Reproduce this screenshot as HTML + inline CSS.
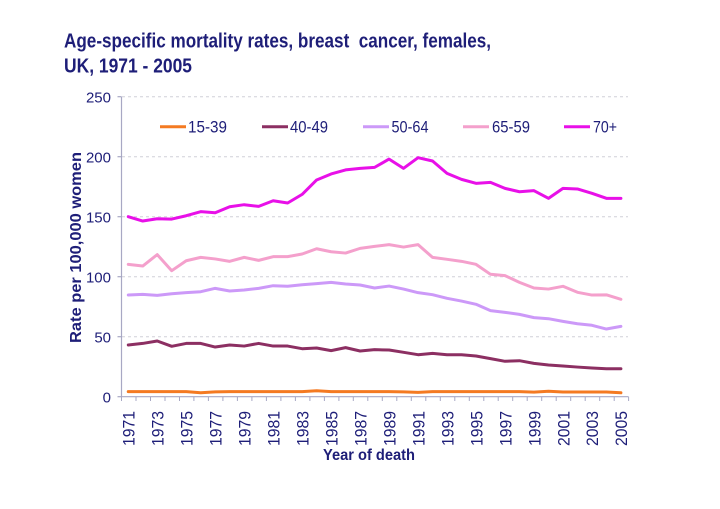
<!DOCTYPE html>
<html><head><meta charset="utf-8"><style>
html,body{margin:0;padding:0;background:#fff;}
svg{display:block;}
text{font-family:"Liberation Sans",Arial,sans-serif;fill:#1e1e78;}
</style></head><body>
<svg width="720" height="509" viewBox="0 0 720 509" xmlns="http://www.w3.org/2000/svg">
<rect width="720" height="509" fill="#fff"/>
<!-- title -->
<text x="64" y="47.5" font-size="20" font-weight="bold" textLength="427" lengthAdjust="spacingAndGlyphs" fill="#1a1a78">Age-specific mortality rates, breast &#160;cancer, females,</text>
<text x="64" y="72.3" font-size="20" font-weight="bold" textLength="128" lengthAdjust="spacingAndGlyphs" fill="#1a1a78">UK, 1971 - 2005</text>

<!-- gridlines -->
<g stroke="#d0d0d8" stroke-width="1" stroke-dasharray="3,3">
<line x1="122" y1="96.7" x2="628" y2="96.7"/>
<line x1="122" y1="156.7" x2="628" y2="156.7"/>
<line x1="122" y1="216.7" x2="628" y2="216.7"/>
<line x1="122" y1="276.7" x2="628" y2="276.7"/>
<line x1="122" y1="336.7" x2="628" y2="336.7"/>
</g>
<!-- axes -->
<g stroke="#a8a8c4" stroke-width="1.2">
<line x1="121.5" y1="96.7" x2="121.5" y2="397"/>
<line x1="121" y1="396.7" x2="628.5" y2="396.7"/>
<line x1="117.5" y1="96.7" x2="121.5" y2="96.7"/>
<line x1="117.5" y1="156.7" x2="121.5" y2="156.7"/>
<line x1="117.5" y1="216.7" x2="121.5" y2="216.7"/>
<line x1="117.5" y1="276.7" x2="121.5" y2="276.7"/>
<line x1="117.5" y1="336.7" x2="121.5" y2="336.7"/>
<line x1="117.5" y1="396.7" x2="121.5" y2="396.7"/>
</g>
<g stroke="#a8a8c4" stroke-width="1">
<line x1="121.5" y1="396.7" x2="121.5" y2="401"/>
<line x1="136" y1="396.7" x2="136" y2="401"/>
<line x1="150.5" y1="396.7" x2="150.5" y2="401"/>
<line x1="165" y1="396.7" x2="165" y2="401"/>
<line x1="179.5" y1="396.7" x2="179.5" y2="401"/>
<line x1="193.9" y1="396.7" x2="193.9" y2="401"/>
<line x1="208.4" y1="396.7" x2="208.4" y2="401"/>
<line x1="222.9" y1="396.7" x2="222.9" y2="401"/>
<line x1="237.4" y1="396.7" x2="237.4" y2="401"/>
<line x1="251.9" y1="396.7" x2="251.9" y2="401"/>
<line x1="266.4" y1="396.7" x2="266.4" y2="401"/>
<line x1="280.9" y1="396.7" x2="280.9" y2="401"/>
<line x1="295.4" y1="396.7" x2="295.4" y2="401"/>
<line x1="309.9" y1="396.7" x2="309.9" y2="401"/>
<line x1="324.4" y1="396.7" x2="324.4" y2="401"/>
<line x1="338.9" y1="396.7" x2="338.9" y2="401"/>
<line x1="353.3" y1="396.7" x2="353.3" y2="401"/>
<line x1="367.8" y1="396.7" x2="367.8" y2="401"/>
<line x1="382.3" y1="396.7" x2="382.3" y2="401"/>
<line x1="396.8" y1="396.7" x2="396.8" y2="401"/>
<line x1="411.3" y1="396.7" x2="411.3" y2="401"/>
<line x1="425.8" y1="396.7" x2="425.8" y2="401"/>
<line x1="440.3" y1="396.7" x2="440.3" y2="401"/>
<line x1="454.8" y1="396.7" x2="454.8" y2="401"/>
<line x1="469.3" y1="396.7" x2="469.3" y2="401"/>
<line x1="483.8" y1="396.7" x2="483.8" y2="401"/>
<line x1="498.2" y1="396.7" x2="498.2" y2="401"/>
<line x1="512.7" y1="396.7" x2="512.7" y2="401"/>
<line x1="527.2" y1="396.7" x2="527.2" y2="401"/>
<line x1="541.7" y1="396.7" x2="541.7" y2="401"/>
<line x1="556.2" y1="396.7" x2="556.2" y2="401"/>
<line x1="570.7" y1="396.7" x2="570.7" y2="401"/>
<line x1="585.2" y1="396.7" x2="585.2" y2="401"/>
<line x1="599.7" y1="396.7" x2="599.7" y2="401"/>
<line x1="614.2" y1="396.7" x2="614.2" y2="401"/>
<line x1="628.6" y1="396.7" x2="628.6" y2="401"/>
</g>

<!-- y tick labels -->
<g font-size="15" text-anchor="end">
<text x="111" y="102.3">250</text>
<text x="111" y="162.3">200</text>
<text x="111" y="222.3">150</text>
<text x="111" y="282.3">100</text>
<text x="111" y="342.3">50</text>
<text x="111" y="402.3">0</text>
</g>

<!-- y axis title -->
<text transform="translate(81,343) rotate(-90)" font-size="16" font-weight="bold" textLength="191" lengthAdjust="spacingAndGlyphs" fill="#1a1a78">Rate per 100,000 women</text>

<!-- x tick labels -->
<g font-size="17" text-anchor="end">
<text transform="translate(134.6,411) rotate(-90)" textLength="35" lengthAdjust="spacingAndGlyphs">1971</text>
<text transform="translate(163.6,411) rotate(-90)" textLength="35" lengthAdjust="spacingAndGlyphs">1973</text>
<text transform="translate(192.5,411) rotate(-90)" textLength="35" lengthAdjust="spacingAndGlyphs">1975</text>
<text transform="translate(221.5,411) rotate(-90)" textLength="35" lengthAdjust="spacingAndGlyphs">1977</text>
<text transform="translate(250.5,411) rotate(-90)" textLength="35" lengthAdjust="spacingAndGlyphs">1979</text>
<text transform="translate(279.5,411) rotate(-90)" textLength="35" lengthAdjust="spacingAndGlyphs">1981</text>
<text transform="translate(308.4,411) rotate(-90)" textLength="35" lengthAdjust="spacingAndGlyphs">1983</text>
<text transform="translate(337.4,411) rotate(-90)" textLength="35" lengthAdjust="spacingAndGlyphs">1985</text>
<text transform="translate(366.4,411) rotate(-90)" textLength="35" lengthAdjust="spacingAndGlyphs">1987</text>
<text transform="translate(395.4,411) rotate(-90)" textLength="35" lengthAdjust="spacingAndGlyphs">1989</text>
<text transform="translate(424.4,411) rotate(-90)" textLength="35" lengthAdjust="spacingAndGlyphs">1991</text>
<text transform="translate(453.3,411) rotate(-90)" textLength="35" lengthAdjust="spacingAndGlyphs">1993</text>
<text transform="translate(482.3,411) rotate(-90)" textLength="35" lengthAdjust="spacingAndGlyphs">1995</text>
<text transform="translate(511.3,411) rotate(-90)" textLength="35" lengthAdjust="spacingAndGlyphs">1997</text>
<text transform="translate(540.3,411) rotate(-90)" textLength="35" lengthAdjust="spacingAndGlyphs">1999</text>
<text transform="translate(569.3,411) rotate(-90)" textLength="35" lengthAdjust="spacingAndGlyphs">2001</text>
<text transform="translate(598.2,411) rotate(-90)" textLength="35" lengthAdjust="spacingAndGlyphs">2003</text>
<text transform="translate(627.2,411) rotate(-90)" textLength="35" lengthAdjust="spacingAndGlyphs">2005</text>
</g>

<!-- x axis title -->
<text x="323" y="460" font-size="15.5" font-weight="bold" textLength="92" lengthAdjust="spacingAndGlyphs" fill="#1a1a78">Year of death</text>

<!-- series -->
<g transform="translate(128.25,396.7) scale(14.49,-1.2)" fill="none" stroke-width="3" stroke-linejoin="round" stroke-linecap="round">
<polyline vector-effect="non-scaling-stroke" stroke="#f47a22" points="0,4.2 1,4.2 2,4.2 3,4.2 4,4.2 5,3.3 6,4.0 7,4.2 8,4.2 9,4.2 10,4.2 11,4.2 12,4.2 13,5.0 14,4.2 15,4.2 16,4.2 17,4.2 18,4.2 19,4.0 20,3.6 21,4.2 22,4.2 23,4.2 24,4.2 25,4.2 26,4.2 27,4.2 28,3.8 29,4.5 30,3.9 31,3.9 32,3.9 33,3.9 34,3.3"/>
<polyline vector-effect="non-scaling-stroke" stroke="#8c2f62" points="0,43.1 1,44.4 2,46.4 3,42 4,44.4 5,44.4 6,41.4 7,43.1 8,42.2 9,44.4 10,42.2 11,42.2 12,40 13,40.6 14,38.4 15,40.9 16,38.1 17,39.2 18,38.9 19,37 20,35 21,36.1 22,35 23,35 24,33.9 25,31.7 26,29.5 27,30 28,27.8 29,26.4 30,25.6 31,24.7 32,23.9 33,23.3 34,23.3"/>
<polyline vector-effect="non-scaling-stroke" stroke="#cc99f8" points="0,84.7 1,85.3 2,84.4 3,85.8 4,86.7 5,87.5 6,90.3 7,88.1 8,88.9 9,90.3 10,92.5 11,92 12,93.3 13,94.2 14,95.3 15,93.9 16,93.1 17,90.6 18,92.2 19,89.7 20,86.7 21,85 22,82 23,79.7 24,77 25,71.7 26,70.3 27,68.6 28,65.9 29,65 30,62.8 31,60.8 32,59.5 33,56.4 34,58.6"/>
<polyline vector-effect="non-scaling-stroke" stroke="#f4a0cc" points="0,110.3 1,108.9 2,118.4 3,105 4,113.3 5,116.1 6,114.8 7,112.8 8,116.1 9,113.6 10,116.7 11,116.7 12,118.9 13,123.3 14,120.8 15,119.7 16,123.6 17,125.3 18,126.7 19,124.7 20,126.7 21,116.1 22,114.5 23,112.8 24,110.3 25,102 26,100.9 27,95.3 28,90.6 29,89.7 30,92 31,87 32,84.7 33,84.9 34,81.2"/>
<polyline vector-effect="non-scaling-stroke" stroke="#e810e8" points="0,150 1,146.4 2,148.3 3,148 4,150.8 5,154.2 6,153.3 7,158.3 8,160 9,158.6 10,163.3 11,161.4 12,168.6 13,180.6 14,185.6 15,189 16,190.3 17,191.1 18,198 19,190.3 20,199.2 21,196.4 22,186.1 23,181.1 24,177.8 25,178.6 26,173.6 27,170.8 28,171.7 29,165.3 30,173.6 31,173.1 32,169.5 33,165.3 34,165.3"/>
</g>

<!-- legend -->
<g stroke-width="3">
<line x1="160" y1="126.7" x2="186" y2="126.7" stroke="#f47a22"/>
<line x1="262" y1="126.7" x2="288" y2="126.7" stroke="#8c2f62"/>
<line x1="363" y1="126.7" x2="389" y2="126.7" stroke="#cc99f8"/>
<line x1="463" y1="126.7" x2="489" y2="126.7" stroke="#f4a0cc"/>
<line x1="564" y1="126.7" x2="590" y2="126.7" stroke="#e810e8"/>
</g>
<g font-size="17">
<text x="188" y="132.3" textLength="39" lengthAdjust="spacingAndGlyphs">15-39</text>
<text x="290" y="132.3" textLength="38" lengthAdjust="spacingAndGlyphs">40-49</text>
<text x="391.5" y="132.3" textLength="37" lengthAdjust="spacingAndGlyphs">50-64</text>
<text x="492" y="132.3" textLength="38" lengthAdjust="spacingAndGlyphs">65-59</text>
<text x="593" y="132.3" textLength="24" lengthAdjust="spacingAndGlyphs">70+</text>
</g>
</svg>
</body></html>
